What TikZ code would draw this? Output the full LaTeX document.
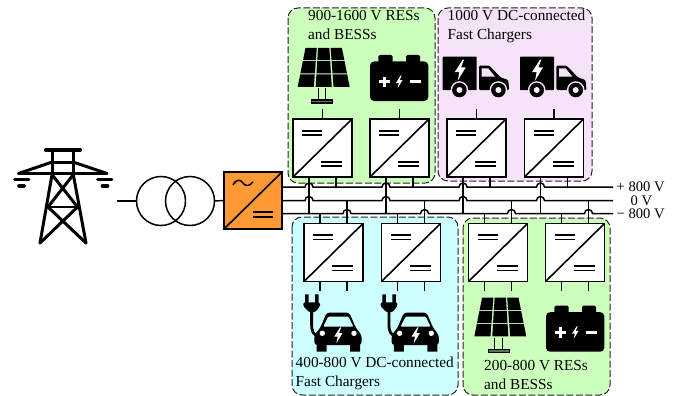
\documentclass[tikz,border=0pt]{standalone}
\usepackage{fontspec}
\setmainfont{Liberation Serif}
\definecolor{zgreen}{HTML}{CCFFBB}
\definecolor{zpurple}{HTML}{F7E3F9}
\definecolor{zcyan}{HTML}{CCFFFF}
\definecolor{zorange}{HTML}{FF9933}
\definecolor{zdash}{HTML}{222222}
\tikzset{
  zone/.style={draw=zdash,line width=1pt,dash pattern=on 7pt off 2.5pt,rounded corners=10pt},
  convbox/.style={draw,fill=white,line width=1.7pt,minimum width=59pt,minimum height=58pt,inner sep=0pt,outer sep=0pt},
  eqline/.style={line width=1.6pt},
  lead/.style={line width=1.4pt},
  bus/.style={line width=1.5pt},
  label/.style={anchor=base west,inner sep=0pt,font=\fontsize{15.3}{18}\selectfont},
  vlabel/.style={anchor=base west,inner sep=0pt,font=\fontsize{14.6}{18}\selectfont},
  pylon/.style={line width=3pt,line cap=round},
  bolt/.pic={\fill[white] (1.2,-5) -- (-2.6,0.9) -- (-0.4,0.9) -- (-1.2,5) -- (2.6,-1.3) -- (0.4,-1.3) -- (1.8,-5) -- cycle;},
  solarpanel/.pic={
    \foreach \r in {0,1,2}{\foreach \c in {0,1,2}{
      \pgfmathsetmacro{\ta}{(\r+0.04)/3}\pgfmathsetmacro{\tb}{(\r+0.96)/3}
      \pgfmathsetmacro{\ca}{(\c+0.05)/3}\pgfmathsetmacro{\cb}{(\c+0.95)/3}
      \pgfmathsetmacro{\xa}{8.3*(1-\ta)+\ca*(37.4+16.6*\ta)}
      \pgfmathsetmacro{\xb}{8.3*(1-\ta)+\cb*(37.4+16.6*\ta)}
      \pgfmathsetmacro{\xc}{8.3*(1-\tb)+\cb*(37.4+16.6*\tb)}
      \pgfmathsetmacro{\xd}{8.3*(1-\tb)+\ca*(37.4+16.6*\tb)}
      \pgfmathsetmacro{\ya}{40*\ta}\pgfmathsetmacro{\yb}{40*\tb}
      \fill (\xa,\ya) -- (\xb,\ya) -- (\xc,\yb) -- (\xd,\yb) -- cycle;
    }}
    \draw[line width=1.3pt] (21.5,41) -- (21.5,53) (29,41) -- (29,53);
    \draw[line width=1.1pt,fill=black!55!zgreen] (15,52.7) rectangle (36,55.7);
  },
  batt/.pic={
    \fill[rounded corners=1.5pt] (8.3,7.5) -- (8.3,0) -- (22.7,0) -- (22.7,7.5) -- cycle;
    \fill[rounded corners=1.5pt] (36,7.5) -- (36,0) -- (50,0) -- (50,7.5) -- cycle;
    \fill[rounded corners=4pt] (0,6.5) rectangle (58.3,46);
    \draw[white,line width=3pt] (9,26.7) -- (19.5,26.7) (14.2,21.5) -- (14.2,31.9);
    \draw[white,line width=3pt] (39.5,26.7) -- (50.5,26.7);
    \pic[scale=1.25] at (29.3,26.7) {bolt};
  },
  truckicon/.pic={
    \fill[rounded corners=0.7pt] (0,0) rectangle (34,33.3);
    \fill[rounded corners=1.2pt] (36.3,9) -- (46.7,9) -- (58,20.7) -- (65.5,23.3) -- (66.5,33.3) -- (36.3,33.3) -- cycle;
    \fill[zpurple] (39,11.7) -- (45.7,11.7) -- (52.3,20) -- (39,20) -- cycle;
    \pic[scale=2.1] at (17.5,13.5) {bolt};
    \foreach \wx in {16.7,55.7}{
      \fill[zpurple] (\wx,33.3) circle[radius=8.8];
      \fill (\wx,33.3) circle[radius=7.3];
      \fill[zpurple!40!white] (\wx,33.3) circle[radius=3];
    }
  },
  evcar/.pic={
    \fill (1.7,0) rectangle (5.2,9) (11.7,0) rectangle (15.2,9);
    \fill[rounded corners=1.5pt] (0,8) -- (16.7,8) -- (16.7,12) -- (11.7,18) -- (6,18) -- (0,12) -- cycle;
    \draw[line width=2.8pt] (8.3,17) -- (8.3,30) .. controls (8.3,37) and (10,41) .. (15,41.3);
    \fill[rounded corners=3pt] (11,50.7) -- (11,40.7) -- (17,33.5) -- (23.3,18.3) -- (46,18.3) -- (52.5,33.5) -- (58.3,40.7) -- (58.3,50.7) -- cycle;
    \fill (13.3,50) rectangle (23.3,57.3) (46.7,50) rectangle (56.7,57.3);
    \fill[zcyan,rounded corners=1pt] (20,32.3) -- (25,22.3) -- (45,22.3) -- (50,32.3) -- cycle;
    \fill[white] (19,39) circle[radius=2.7] (50.7,39) circle[radius=2.7];
    \pic[scale=1.6] at (35,41) {bolt};
  }
}
\newcommand{\zconv}[3]{%
  \node[convbox] (#1) at (#2,#3) {};
  \draw[line width=1.6pt] (#1.south west) -- (#1.north east);
  \draw[eqline] (#2-20.5,#3-17.3) -- (#2-0.5,#3-17.3) (#2-20.5,#3-13) -- (#2-0.5,#3-13);
  \draw[eqline] (#2-1.5,#3+13.7) -- (#2+19.5,#3+13.7) (#2-1.5,#3+18) -- (#2+19.5,#3+18);
  \coordinate (#1sl) at (#2-13.5,#3+29);
  \coordinate (#1sr) at (#2+13.5,#3+29);
  \coordinate (#1nl) at (#2-13.5,#3-29);
  \coordinate (#1nr) at (#2+13.5,#3-29);
}
\begin{document}
\begin{tikzpicture}[x=1pt,y=-1pt]
\useasboundingbox (0,0) rectangle (677,396);
% zones
\fill[zgreen,rounded corners=10pt] (288,8) rectangle (435,183);
\draw[zone] (288,8) rectangle (435,183);
\fill[zpurple,rounded corners=10pt] (438,8) rectangle (592,181);
\draw[zone] (438,8) rectangle (592,181);
\fill[zcyan,rounded corners=10pt] (292,217) rectangle (458,395);
\draw[zone] (292,217) rectangle (458,395);
\fill[zgreen,rounded corners=10pt] (463,218) rectangle (610,395);
\draw[zone] (463,218) rectangle (610,395);
% zone texts
\node[label] (t1a) at (308,21) {900-1600 V RESs};
\node[label] (t1b) at (308,39.5) {and BESSs};
\node[label] (t2a) at (447.5,21) {1000 V DC-connected};
\node[label] (t2b) at (447.5,39.5) {Fast Chargers};
\node[label] (t3a) at (295.5,367) {400-800 V DC-connected};
\node[label] (t3b) at (295.5,386) {Fast Chargers};
\node[label] (t4a) at (484,370) {200-800 V RESs};
\node[label] (t4b) at (484,389) {and BESSs};
% pylon
\draw[line width=3.2pt,line cap=round] (45.5,150) -- (80.5,150);
\draw[pylon] (52.3,150) -- (52.3,173) (73,150) -- (73,173);
\draw[pylon] (52.3,162) -- (73,162);
\draw[pylon] (18.5,173.5) -- (52.3,162) (107,173.5) -- (73,162);
\draw[line width=2.4pt,line cap=round] (18.5,173.5) -- (107,173.5);
\draw[line width=2.6pt,line cap=round] (14.5,179.3) -- (29,179.3) (97.5,179.3) -- (112,179.3);
\draw[line width=3.6pt,line cap=round] (19,186) -- (24,186) (102.5,186) -- (107.5,186);
\draw[pylon] (52.3,173) -- (40,243) (73,173) -- (86,243);
\draw[pylon] (52.3,175) -- (77.5,207) (73,175) -- (48,207);
\draw[line width=2.4pt] (48,207) -- (77.5,207);
\draw[pylon] (48,207) -- (86,243) (77.5,207) -- (40,243);
% transformer
\coordinate (gridend) at (117,201);
\node[draw,circle,line width=1.5pt,minimum size=49pt,inner sep=0pt,outer sep=0pt] (ta) at (161,201) {};
\node[draw,circle,line width=1.5pt,minimum size=49pt,inner sep=0pt,outer sep=0pt] (tb) at (190,201) {};
% inverter
\node[draw,fill=zorange,line width=1.8pt,minimum width=58pt,minimum height=57pt,inner sep=0pt,outer sep=0pt] (inv) at (253,200.5) {};
\draw[line width=1.6pt] (inv.south west) -- (inv.north east);
\draw[line width=1.5pt] (233,185) .. controls (237,178) and (241,180) .. (243,183) .. controls (245,186) and (249,187) .. (253,182);
\draw[eqline] (252.5,212) -- (273,212) (252.5,217) -- (273,217);
\draw[lead] (gridend) -- (ta.west);
\draw[lead] (tb.east) -- (inv.west);
% bus anchors
\coordinate (busP) at (inv.east |- 0,187);
\coordinate (busZ) at (inv.east |- 0,200.5);
\coordinate (busM) at (inv.east |- 0,213.5);
\coordinate (endP) at (613,187);
\coordinate (endZ) at (613,200.5);
\coordinate (endM) at (613,213.5);
% converters
\zconv{u1}{322.5}{148}
\zconv{u2}{399.5}{148}
\zconv{u3}{476.5}{148}
\zconv{u4}{554}{148}
\zconv{d1}{333.5}{252.5}
\zconv{d2}{411}{252.5}
\zconv{d3}{498}{252.5}
\zconv{d4}{575}{252.5}
% leads to the icons
\foreach \n in {u1,u2,u3,u4}{
  \coordinate (\n top) at ([yshift=10pt]\n.north);
  \draw[lead] (\n.north) -- (\n top);
}
\foreach \n in {d1,d2,d3,d4}{
  \draw[lead] (\n sl) -- ++(0,9.5);
  \draw[lead] (\n sr) -- ++(0,9.5);
}
% leads to the buses
\foreach \n in {u1,u2,u3,u4}{
  \draw[lead] (\n sl) -- (\n sl |- busM);
  \draw[lead] (\n sr) -- (\n sr |- busP);
}
\foreach \n in {d1,d2,d3,d4}{
  \draw[lead] (\n nl) -- (\n nl |- busM);
  \draw[lead] (\n nr) -- (\n nr |- busZ);
}
% buses with hops
\draw[bus] (busP) \foreach \x in {309,386,463,540.5}{ -- (\x-4,187) arc[start angle=180,end angle=360,radius=4]} -- (endP);
\draw[bus] (busZ) \foreach \x in {309,386,463,540.5}{ -- (\x-4,200.5) arc[start angle=180,end angle=360,radius=4]} -- (endZ);
\draw[bus] (busM) \foreach \x in {347,424.5,511.5,588.5}{ -- (\x-4,213.5) arc[start angle=180,end angle=360,radius=4]} -- (endM);
\node[vlabel] (vp) at (616.5,191.5) {+ 800 V};
\node[vlabel] (vz) at (630.5,205) {0 V};
\node[vlabel] (vm) at (616.5,218) {− 800 V};
% icons
\pic at (296.7,47.3) {solarpanel};
\pic at (473.3,297) {solarpanel};
\pic at (370,55) {batt};
\pic at (546,305.7) {batt};
\pic at (442.7,56.7) {truckicon};
\pic at (520,56.7) {truckicon};
\pic at (303.3,294.3) {evcar};
\pic at (380.6,294.3) {evcar};
\end{tikzpicture}
\end{document}
